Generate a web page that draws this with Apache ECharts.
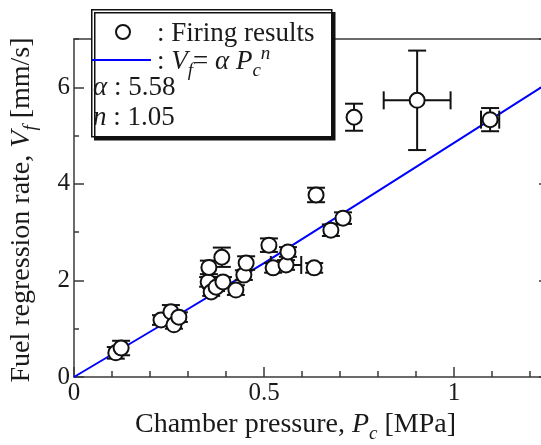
<!DOCTYPE html>
<html><head><meta charset="utf-8">
<script src="https://cdn.jsdelivr.net/npm/echarts@6/dist/echarts.min.js"></script>
<style>html,body{margin:0;padding:0;background:#fff;overflow:hidden}#c{width:560px;height:445px}</style>
</head><body><div id="c"></div>
<script>
// Firing results: chamber pressure [MPa], regression rate [mm/s], and error half-widths
const pressure    = [0.110, 0.124, 0.229, 0.255, 0.263, 0.276, 0.353, 0.355, 0.361, 0.374, 0.389, 0.392, 0.426, 0.447, 0.453, 0.513, 0.524, 0.558, 0.563, 0.632, 0.637, 0.676, 0.708, 0.737, 0.903, 1.095];
const rate        = [0.50, 0.60, 1.18, 1.35, 1.08, 1.24, 1.97, 2.27, 1.76, 1.86, 2.48, 1.97, 1.80, 2.11, 2.36, 2.73, 2.26, 2.32, 2.59, 2.26, 3.77, 3.04, 3.29, 5.38, 5.73, 5.33];
const rateErr     = [0.12, 0.15, 0.10, 0.14, 0.08, 0.10, 0.10, 0.14, 0.08, 0.08, 0.20, 0.10, 0.10, 0.10, 0.14, 0.14, 0.10, 0.10, 0.10, 0.10, 0.15, 0.12, 0.12, 0.28, 1.03, 0.24];
const pressureErr = [0, 0, 0, 0, 0, 0, 0, 0, 0, 0, 0, 0, 0, 0, 0, 0, 0, 0.04, 0, 0, 0, 0, 0, 0, 0.088, 0.024];
// Fitted curve Vf = alpha * Pc^n
const fitPressure = [0, 0.25, 0.5, 0.75, 1.0, 1.25];
const fitRate     = [0, 1.17, 2.36, 3.60, 4.85, 6.10];
const alphaText = '5.58';
const nText = '1.05';

const FONT = "'Liberation Serif', 'Times New Roman', 'DejaVu Serif', serif";
const TXT = '#1a1a1a';
const AX = '#3a3a3a';

const points = pressure.map((p, i) => [p, rate[i]]);
const errData = pressure.map((p, i) => [p, rate[i], rateErr[i], pressureErr[i]]);
const fitData = fitPressure.map((p, i) => [p, fitRate[i]]);

function renderErr(params, api) {
  const x = api.value(0), y = api.value(1), ey = api.value(2), ex = api.value(3);
  const cap = 9;
  const st = { stroke: '#111', lineWidth: 2, fill: null };
  const ch = [];
  if (ey > 0) {
    const t = api.coord([x, y + ey]), b = api.coord([x, y - ey]);
    ch.push({ type: 'line', shape: { x1: t[0], y1: t[1], x2: b[0], y2: b[1] }, style: st });
    ch.push({ type: 'line', shape: { x1: t[0] - cap, y1: t[1], x2: t[0] + cap, y2: t[1] }, style: st });
    ch.push({ type: 'line', shape: { x1: b[0] - cap, y1: b[1], x2: b[0] + cap, y2: b[1] }, style: st });
  }
  if (ex > 0) {
    const l = api.coord([x - ex, y]), r = api.coord([x + ex, y]);
    ch.push({ type: 'line', shape: { x1: l[0], y1: l[1], x2: r[0], y2: r[1] }, style: st });
    ch.push({ type: 'line', shape: { x1: l[0], y1: l[1] - cap, x2: l[0], y2: l[1] + cap }, style: st });
    ch.push({ type: 'line', shape: { x1: r[0], y1: r[1] - cap, x2: r[0], y2: r[1] + cap }, style: st });
  }
  return { type: 'group', children: ch };
}

function rich(size) {
  return {
    m: { fontFamily: FONT, fontSize: size, lineHeight: 36, verticalAlign: 'middle', color: TXT },
    i: { fontFamily: FONT, fontSize: size, lineHeight: 36, verticalAlign: 'middle', fontStyle: 'italic', color: TXT },
    sub: { fontFamily: FONT, fontSize: 19, lineHeight: 14, verticalAlign: 'bottom', fontStyle: 'italic', color: TXT },
    sup: { fontFamily: FONT, fontSize: 19, lineHeight: 24, verticalAlign: 'top', fontStyle: 'italic', color: TXT }
  };
}

const tickLine = { color: AX, width: 1.5 };
const chart = echarts.init(document.getElementById('c'), null, { renderer: 'canvas' });
chart.setOption({
  animation: false,
  backgroundColor: '#fff',
  grid: { left: 74, top: 39, bottom: 68, right: 11, containLabel: false, outerBoundsMode: 'none' },
  xAxis: [{
    type: 'value', min: 0, max: 1.25, interval: 0.5, position: 'bottom',
    name: '{m|Chamber pressure, }{i|P}{sub|c}{m| [MPa]}',
    nameLocation: 'middle', nameGap: 30,
    nameTextStyle: { fontFamily: FONT, fontSize: 28, color: TXT, rich: rich(28), padding: [0, 32, 0, 0] },
    axisLine: { show: true, onZero: false, lineStyle: tickLine },
    axisTick: { show: true, inside: true, length: 10, lineStyle: tickLine },
    axisLabel: { fontFamily: FONT, fontSize: 25, color: TXT, margin: 4, showMaxLabel: false,
      formatter: v => (Math.abs(v - 0.5) < 1e-6 ? '0.5' : String(Math.round(v * 10) / 10)) },
    splitLine: { show: false }
  }, {
    type: 'value', min: 0, max: 1.25, interval: 0.1, position: 'bottom',
    axisLine: { show: false },
    axisTick: { show: true, inside: true, length: 6, lineStyle: tickLine },
    axisLabel: { show: false }, splitLine: { show: false }
  }, {
    type: 'value', min: 0, max: 1.25, position: 'top',
    axisLine: { show: true, onZero: false, lineStyle: tickLine },
    axisTick: { show: false }, axisLabel: { show: false }, splitLine: { show: false }
  }],
  yAxis: [{
    type: 'value', min: 0, max: 7, interval: 2, position: 'left',
    name: '{m|Fuel regression rate, }{i|V}{sub|f}{m| [mm/s]}',
    nameLocation: 'middle', nameGap: 34,
    nameTextStyle: { fontFamily: FONT, fontSize: 28, color: TXT, rich: rich(28), padding: [0, 4, 0, 0] },
    axisLine: { show: true, onZero: false, lineStyle: tickLine },
    axisTick: { show: true, inside: true, length: 10, lineStyle: tickLine },
    axisLabel: { fontFamily: FONT, fontSize: 25, color: TXT, margin: 4, showMaxLabel: false },
    splitLine: { show: false }
  }, {
    type: 'value', min: 0, max: 7, interval: 1, position: 'left',
    axisLine: { show: false },
    axisTick: { show: true, inside: true, length: 5, lineStyle: tickLine },
    axisLabel: { show: false }, splitLine: { show: false }
  }, {
    type: 'value', min: 0, max: 7, interval: 2, position: 'right',
    axisLine: { show: true, onZero: false, lineStyle: tickLine },
    axisTick: { show: true, inside: true, length: 10, lineStyle: tickLine },
    axisLabel: { show: false }, splitLine: { show: false }
  }],
  series: [{
    name: 'Fit', type: 'line', data: fitData, xAxisIndex: 0, yAxisIndex: 0,
    symbol: 'none', lineStyle: { color: '#0000ff', width: 2 }, z: 2
  }, {
    name: 'Error', type: 'custom', data: errData, xAxisIndex: 0, yAxisIndex: 0,
    encode: { x: 0, y: 1 }, renderItem: renderErr, z: 3
  }, {
    name: 'Firing results', type: 'scatter', data: points, xAxisIndex: 0, yAxisIndex: 0,
    symbol: 'circle', symbolSize: 15,
    itemStyle: { color: '#fff', borderColor: '#111', borderWidth: 2, opacity: 1 }, z: 4
  }],
  graphic: [{
    type: 'rect', left: 91, top: 9, z: 100,
    shape: { width: 240, height: 127 },
    style: { fill: '#fff', stroke: '#111', lineWidth: 1.5, shadowColor: '#111', shadowOffsetX: 3, shadowOffsetY: 3, shadowBlur: 0 }
  }, {
    type: 'circle', z: 101, shape: { cx: 123, cy: 32, r: 7 },
    style: { fill: '#fff', stroke: '#111', lineWidth: 2 }
  }, {
    type: 'text', z: 101, x: 157, y: 34,
    style: { text: ': Firing results', font: "27px 'Liberation Serif', 'Times New Roman', serif", fill: TXT, verticalAlign: 'middle' }
  }, {
    type: 'line', z: 101, shape: { x1: 92, y1: 60, x2: 151, y2: 60 },
    style: { stroke: '#0000ff', lineWidth: 2 }
  }, {
    type: 'text', z: 101, x: 157, y: 62,
    style: { text: '{m|: }{i|V}{sub|f}{m|= }{i|α P}{sub|c}{sup|n}', verticalAlign: 'middle', rich: rich(27), fill: TXT }
  }, {
    type: 'text', z: 101, x: 93, y: 88,
    style: { text: '{i|α}{m| : ' + alphaText + '}', verticalAlign: 'middle', rich: rich(27), fill: TXT }
  }, {
    type: 'text', z: 101, x: 93, y: 118,
    style: { text: '{i|n}{m| : ' + nText + '}', verticalAlign: 'middle', rich: rich(27), fill: TXT }
  }]
});
</script>
</body></html>
